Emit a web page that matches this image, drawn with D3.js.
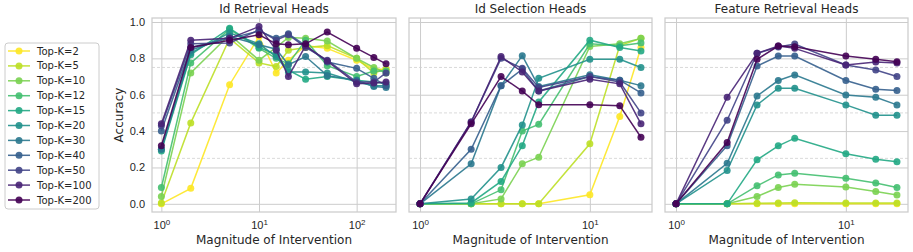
<!DOCTYPE html>
<html>
<head>
<style type="text/css">
    body { margin: 0; background: white; }
    svg { display: block; font-family: "DejaVu Sans", sans-serif; }
    .grid line { stroke: #cccccc; stroke-width: 1; }
    .grid text { font-size: 11px; fill: #262626; }
    .title, .xlabel, .ylabel { font-size: 12px; fill: #262626; }
    .legend { font-size: 10px; fill: #262626; }
</style>
</head>
<body>
<svg width="913" height="252"></svg>
<script src="https://cdn.jsdelivr.net/npm/d3@7"></script>
<script>

    // Top-K settings, one series each
    var topK = [2, 5, 10, 12, 15, 20, 30, 40, 50, 100, 200];

    var titles = ["Id Retrieval Heads", "Id Selection Heads", "Feature Retrieval Heads"];

    // magnitudes of intervention (x values)
    var xIdRetrieval = [1, 2, 5, 10, 15, 20, 30, 50, 100, 150, 200];
    var xIdSelection = [1, 2, 3, 4, 5, 10, 15, 20];
    var xFeatRetrieval = [1, 2, 3, 4, 5, 10, 15, 20];

    // accuracy, one row per Top-K
    var idRetrieval = [
        [0.00, 0.085, 0.655, 0.92, 0.72, 0.79, 0.87, 0.855, 0.79, 0.74, 0.74],
        [0.005, 0.445, 0.91, 0.775, 0.755, 0.845, 0.86, 0.87, 0.80, 0.72, 0.74],
        [0.04, 0.72, 0.93, 0.79, 0.86, 0.915, 0.91, 0.895, 0.80, 0.75, 0.72],
        [0.09, 0.775, 0.96, 0.855, 0.80, 0.77, 0.90, 0.76, 0.70, 0.73, 0.73],
        [0.29, 0.82, 0.965, 0.86, 0.82, 0.735, 0.685, 0.70, 0.68, 0.67, 0.66],
        [0.30, 0.83, 0.94, 0.88, 0.81, 0.725, 0.725, 0.72, 0.67, 0.65, 0.65],
        [0.30, 0.845, 0.92, 0.875, 0.85, 0.765, 0.81, 0.705, 0.68, 0.645, 0.64],
        [0.40, 0.86, 0.91, 0.95, 0.91, 0.935, 0.87, 0.78, 0.745, 0.69, 0.65],
        [0.43, 0.88, 0.885, 0.955, 0.90, 0.93, 0.86, 0.79, 0.67, 0.67, 0.72],
        [0.44, 0.90, 0.91, 0.975, 0.845, 0.70, 0.87, 0.785, 0.66, 0.665, 0.67],
        [0.32, 0.86, 0.90, 0.93, 0.88, 0.875, 0.88, 0.945, 0.855, 0.805, 0.77]
    ];
    var idSelection = [
        [0, 0, 0, 0, 0, 0.05, 0.48, 0.86],
        [0, 0, 0, 0, 0, 0.33, 0.87, 0.91],
        [0, 0, 0.027, 0.22, 0.256, 0.865, 0.88, 0.91],
        [0, 0, 0.077, 0.40, 0.437, 0.88, 0.87, 0.885],
        [0, 0.005, 0.123, 0.32, 0.56, 0.90, 0.86, 0.84],
        [0, 0.027, 0.20, 0.434, 0.69, 0.795, 0.795, 0.75],
        [0, 0.22, 0.65, 0.815, 0.645, 0.71, 0.68, 0.65],
        [0, 0.30, 0.65, 0.74, 0.62, 0.70, 0.68, 0.61],
        [0, 0.45, 0.80, 0.745, 0.64, 0.70, 0.67, 0.50],
        [0, 0.45, 0.81, 0.725, 0.62, 0.685, 0.66, 0.44],
        [0, 0.44, 0.70, 0.62, 0.545, 0.545, 0.54, 0.366]
    ];
    var featRetrieval = [
        [0, 0, 0, 0, 0, 0, 0, 0],
        [0, 0, 0.003, 0.005, 0.006, 0.005, 0.005, 0.005],
        [0, 0, 0.04, 0.09, 0.108, 0.092, 0.068, 0.048],
        [0, 0, 0.099, 0.159, 0.168, 0.141, 0.114, 0.09],
        [0, 0, 0.242, 0.319, 0.361, 0.275, 0.245, 0.231],
        [0, 0.183, 0.544, 0.636, 0.636, 0.544, 0.487, 0.487],
        [0, 0.223, 0.593, 0.678, 0.709, 0.599, 0.586, 0.544],
        [0, 0.32, 0.758, 0.813, 0.813, 0.678, 0.63, 0.623],
        [0, 0.46, 0.828, 0.862, 0.879, 0.764, 0.736, 0.70],
        [0, 0.586, 0.828, 0.868, 0.855, 0.764, 0.78, 0.775],
        [0, 0.337, 0.795, 0.868, 0.864, 0.813, 0.795, 0.782]
    ];

    var yTicks = [0, 0.2, 0.4, 0.6, 0.8, 1.0];
    var refLines = [0.25, 0.5, 0.75];
    var xTicksWide = [1, 10, 100];
    var xTicksNarrow = [1, 10];

    var svg = d3.select("svg");
    var top_ = 18, bottom = 212;

    var panels = [
        { title: titles[0], xs: xIdRetrieval, rows: idRetrieval, left: 152, right: 396, dom: [-0.096, 2.403], ticks: xTicksWide },
        { title: titles[1], xs: xIdSelection, rows: idSelection, left: 409, right: 652, dom: [-0.065, 1.366], ticks: xTicksNarrow },
        { title: titles[2], xs: xFeatRetrieval, rows: featRetrieval, left: 665, right: 908, dom: [-0.065, 1.366], ticks: xTicksNarrow }
    ];

    var y = d3.scaleLinear().domain([-0.045, 1.022]).range([bottom, top_]);
    var color = function (i) { return d3.interpolateViridis(1 - i / (topK.length - 1)); };

    panels.forEach(function (p, pi) {
        var w = p.right - p.left, h = bottom - top_;
        var x = d3.scaleLog().domain([Math.pow(10, p.dom[0]), Math.pow(10, p.dom[1])]).range([0, w]);
        var yl = d3.scaleLinear().domain(y.domain()).range([h, 0]);
        var g = svg.append("g").attr("transform", "translate(" + p.left + "," + top_ + ")");

        // horizontal grid + y tick labels
        var ya = g.append("g").attr("class", "grid")
            .call(d3.axisLeft(yl).tickValues(yTicks).tickSize(-w).tickPadding(7)
                .tickFormat(pi == 0 ? d3.format(".1f") : function () { return ""; }));
        ya.select(".domain").remove();

        // vertical grid + log tick labels
        var xa = g.append("g").attr("class", "grid").attr("transform", "translate(0," + h + ")")
            .call(d3.axisBottom(x).tickValues(p.ticks).tickSize(-h).tickPadding(7).tickFormat(""));
        xa.select(".domain").remove();
        xa.selectAll(".tick text").each(function (d) {
            var t = d3.select(this);
            t.text("10").attr("dy", "0.95em");
            t.append("tspan").attr("dy", "-0.5em").attr("font-size", "8px").text(Math.round(Math.log10(d)));
        });

        // dashed reference lines
        g.selectAll(".ref").data(refLines).enter().append("line")
            .attr("x1", 0).attr("x2", w)
            .attr("y1", function (d) { return yl(d); }).attr("y2", function (d) { return yl(d); })
            .attr("stroke", "#d0d0d0").attr("stroke-width", 0.8).attr("stroke-dasharray", "3,2");

        // frame
        g.append("rect").attr("width", w).attr("height", h)
            .attr("fill", "none").attr("stroke", "#cccccc").attr("stroke-width", 1.25);

        var line = d3.line().x(function (d) { return x(d[0]); }).y(function (d) { return yl(d[1]); });
        p.rows.forEach(function (row, i) {
            var pts = row.map(function (v, j) { return [p.xs[j], v]; });
            var c = color(i);
            g.append("path").datum(pts).attr("fill", "none").attr("stroke", c)
                .attr("stroke-width", 1.5).attr("opacity", 0.9).attr("d", line);
            g.selectAll(".pt" + i).data(pts).enter().append("circle")
                .attr("cx", function (d) { return x(d[0]); })
                .attr("cy", function (d) { return yl(d[1]); })
                .attr("r", 3.5).attr("fill", c).attr("opacity", 0.9);
        });

        g.append("text").attr("class", "title").attr("x", w / 2).attr("y", -5)
            .attr("text-anchor", "middle").text(p.title);
        g.append("text").attr("class", "xlabel").attr("x", w / 2).attr("y", h + 32)
            .attr("text-anchor", "middle").text("Magnitude of Intervention");
    });

    svg.append("text").attr("class", "ylabel")
        .attr("transform", "translate(123," + ((top_ + bottom) / 2) + ") rotate(-90)")
        .attr("text-anchor", "middle").text("Accuracy");

    // legend
    var lg = svg.append("g");
    lg.append("rect").attr("x", 5).attr("y", 43).attr("width", 94).attr("height", 166).attr("rx", 3)
        .attr("fill", "white").attr("stroke", "#cccccc").attr("stroke-width", 1);
    topK.forEach(function (k, i) {
        var ly = 51 + i * 14.9;
        var c = color(i);
        lg.append("line").attr("x1", 8).attr("x2", 30).attr("y1", ly).attr("y2", ly)
            .attr("stroke", c).attr("stroke-width", 1.5).attr("opacity", 0.9);
        lg.append("circle").attr("cx", 19).attr("cy", ly).attr("r", 3.5).attr("fill", c).attr("opacity", 0.9);
        lg.append("text").attr("class", "legend").attr("x", 37).attr("y", ly).attr("dy", "0.35em")
            .text("Top-K=" + k);
    });
</script>
</body>
</html>
